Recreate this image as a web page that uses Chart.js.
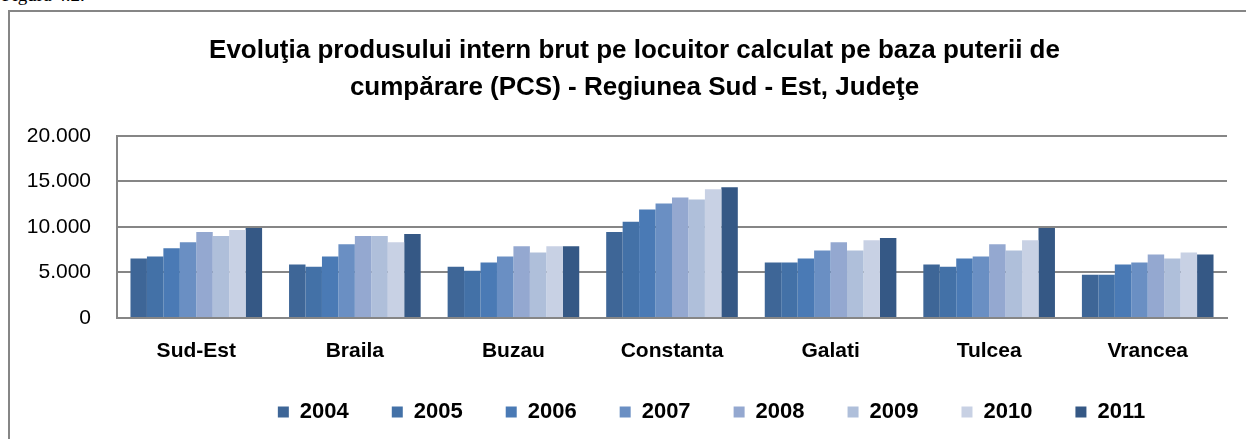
<!DOCTYPE html>
<html>
<head>
<meta charset="utf-8">
<script src="https://cdn.jsdelivr.net/npm/chart.js@4"></script>
<style>
  html, body { margin: 0; padding: 0; background: #fff; overflow: hidden; }
  #wrap { position: relative; width: 1246px; height: 439px; }
  #frame { position: absolute; left: 8px; top: 10px; width: 1260px; height: 450px;
           border: 2px solid #868686; box-sizing: border-box; }
  #fig { position: absolute; left: 2px; top: -16px; font: 19px "Liberation Serif", serif; color: #000; }
  canvas { position: absolute; left: 0; top: 0; }
</style>
</head>
<body>
<div id="wrap">
  <div id="fig">Figura 4.2.</div>
  <div id="frame"></div>
  <canvas id="pib-chart" width="1246" height="439"></canvas>
</div>
<script>
var regions = ['Sud-Est', 'Braila', 'Buzau', 'Constanta', 'Galati', 'Tulcea', 'Vrancea'];
var years = ['2004', '2005', '2006', '2007', '2008', '2009', '2010', '2011'];
var yTicks = [0, 5000, 10000, 15000, 20000];

// valori pe ani, in ordinea regiunilor de mai sus
var v2004 = [6530, 5860, 5630, 9440, 6080, 5860, 4740];
var v2005 = [6750, 5630, 5180, 10560, 6080, 5630, 4740];
var v2006 = [7650, 6750, 6080, 11900, 6530, 6530, 5860];
var v2007 = [8320, 8090, 6750, 12570, 7420, 6750, 6080];
var v2008 = [9440, 8990, 7870, 13240, 8320, 8090, 6980];
var v2009 = [8990, 8990, 7200, 13020, 7420, 7420, 6530];
var v2010 = [9660, 8320, 7870, 14140, 8540, 8540, 7200];
var v2011 = [9890, 9210, 7870, 14360, 8770, 9890, 6980];

var series = [v2004, v2005, v2006, v2007, v2008, v2009, v2010, v2011];
var colors = ['#3e6697', '#4371a7', '#4a7ab5', '#6a8fc3', '#94a8d0', '#afbfda', '#c8d1e4', '#355885'];

var sans = '"Liberation Sans", Arial, sans-serif';

var datasets = [];
for (let i = 0; i < years.length; i++) {
    datasets.push({
        label: years[i],
        data: series[i],
        backgroundColor: colors[i],
        borderWidth: 0
    });
}

// titlul si legenda sunt mai la dreapta (si legenda mai sus) decat le pune Chart.js
var shiftBoxes = {
    id: 'shiftBoxes',
    afterLayout: function(chart) {
        var lg = chart.legend;
        if (lg) {
            lg.left += 98; lg.right += 98;
            lg.top -= 22; lg.bottom -= 22;
        }
        var tb = chart.titleBlock;
        if (tb) { tb.left += 21; tb.right += 21; }
    }
};

var ctx = document.getElementById('pib-chart');
var pibChart = new Chart(ctx, {
    type: 'bar',
    data: { labels: regions, datasets: datasets },
    plugins: [shiftBoxes],
    options: {
        responsive: false,
        animation: false,
        layout: { padding: { left: 0, right: 19, top: 33, bottom: -16 } },
        datasets: { bar: { categoryPercentage: 0.83, barPercentage: 1.0 } },
        plugins: {
            title: {
                display: true,
                text: ['Evoluţia produsului intern brut pe locuitor calculat pe baza puterii de',
                       'cumpărare (PCS) - Regiunea Sud - Est, Judeţe'],
                color: '#000',
                font: { family: sans, size: 26, weight: 'bold', lineHeight: 1.4 },
                padding: { top: 0, bottom: 30 }
            },
            legend: {
                position: 'bottom',
                labels: {
                    color: '#000',
                    boxWidth: 11,
                    boxHeight: 11,
                    padding: 43,
                    font: { family: sans, size: 22, weight: 'bold' }
                }
            },
            tooltip: { enabled: false }
        },
        scales: {
            x: {
                grid: { display: false, drawTicks: false },
                border: { display: true, color: '#868686', width: 2 },
                ticks: { color: '#000', padding: 21, font: { family: sans, size: 21, weight: 'bold' } },
                afterFit: function(s) { s.height = 62; }
            },
            y: {
                min: 0,
                max: 20000,
                afterBuildTicks: function(s) { s.ticks = yTicks.map(function(v) { return { value: v }; }); },
                grid: { color: '#868686', lineWidth: 2, drawTicks: false },
                border: { display: true, color: '#868686', width: 2 },
                ticks: {
                    color: '#000',
                    padding: 26,
                    font: { family: sans, size: 21 },
                    callback: function(v) { return v === 0 ? '0' : (v / 1000) + '.000'; }
                },
                afterFit: function(s) { s.width = 117; }
            }
        }
    }
});
</script>
</body>
</html>
